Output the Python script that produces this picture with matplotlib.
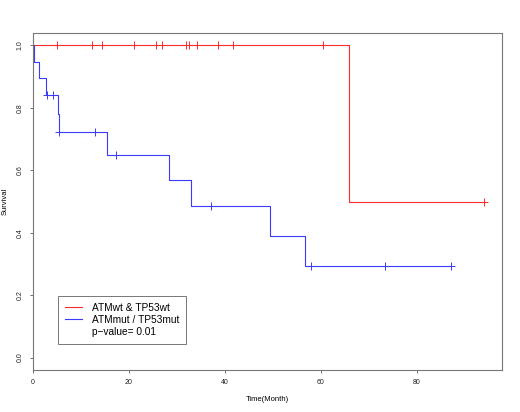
import numpy as np
import matplotlib
matplotlib.use("Agg")
import matplotlib.pyplot as plt
from matplotlib.lines import Line2D

plt.rcParams["font.family"] = ["Liberation Sans", "DejaVu Sans"]

# Kaplan-Meier step data (time in months, survival)
wt_step_times = [0.0, 65.9]
wt_step_surv = [1.0, 0.5]
wt_censor_times = [5.0, 12.4, 14.4, 21.1, 25.6, 26.9, 32.0, 32.5, 34.3,
                   38.5, 41.8, 60.5, 94.1]
wt_end_time = 94.1

mut_step_times = [0.0, 0.17, 1.2, 2.75, 5.18, 5.4, 15.4, 28.4, 32.9, 49.5, 56.8]
mut_step_surv = [1.0, 0.947, 0.895, 0.842, 0.782, 0.722, 0.65, 0.568,
                 0.487, 0.39, 0.292]
mut_censor_times = [2.96, 4.07, 5.5, 13.0, 17.4, 37.1, 57.9, 73.4, 87.2]
mut_end_time = 87.2

labels = ["ATMwt & TP53wt", "ATMmut / TP53mut"]
p_text = "p\u2212value= 0.01"
colors = ["#ff2a2a", "#3a3aff"]


def surv_at(times, surv, t):
    idx = np.searchsorted(times, t, side="right") - 1
    return np.asarray(surv)[idx]


fig = plt.figure(figsize=(5.2, 4.12), dpi=100)
ax = fig.add_axes([33 / 520, 1 - 370 / 412, (502 - 33) / 520, (370 - 33) / 412])

curves = [
    (wt_step_times, wt_step_surv, wt_censor_times, wt_end_time),
    (mut_step_times, mut_step_surv, mut_censor_times, mut_end_time),
]
for (times, surv, cens, end), color, label in zip(curves, colors, labels):
    xs = list(times) + [end]
    ys = list(surv) + [surv[-1]]
    ax.step(xs, ys, where="post", color=color, linewidth=0.8, label=label)
    ax.plot(cens, surv_at(times, surv, cens), linestyle="none", marker="+",
            color=color, markersize=6, markeredgewidth=0.7)

ax.set_xlim(0, 97.8)
ax.set_ylim(-0.04, 1.04)
ax.set_xticks([0, 20, 40, 60, 80])
ax.set_yticks([0.0, 0.2, 0.4, 0.6, 0.8, 1.0])
ax.set_yticklabels(["0.0", "0.2", "0.4", "0.6", "0.8", "1.0"],
                   rotation=90, va="center")
ax.tick_params(labelsize=5, length=2.5, width=0.6, color="#555555",
               labelcolor="#222222", pad=4.3)
for spine in ax.spines.values():
    spine.set_color("#777777")
    spine.set_linewidth(0.8)

ax.set_xlabel("Time(Month)", fontsize=5.5, labelpad=7)
ax.set_ylabel("Survival", fontsize=5.5, labelpad=6)

handles, _ = ax.get_legend_handles_labels()
handles = handles + [Line2D([], [], color="none")]
leg = ax.legend(handles, labels + [p_text], loc="lower left",
                bbox_to_anchor=(0.0527, 0.077), borderaxespad=0,
                fontsize=7.3, frameon=True, fancybox=False,
                edgecolor="#555555", handlelength=1.7, handletextpad=0.95,
                labelspacing=0.2, borderpad=0.7)
leg.get_frame().set_linewidth(0.7)

fig.savefig("out.png", dpi=100)
